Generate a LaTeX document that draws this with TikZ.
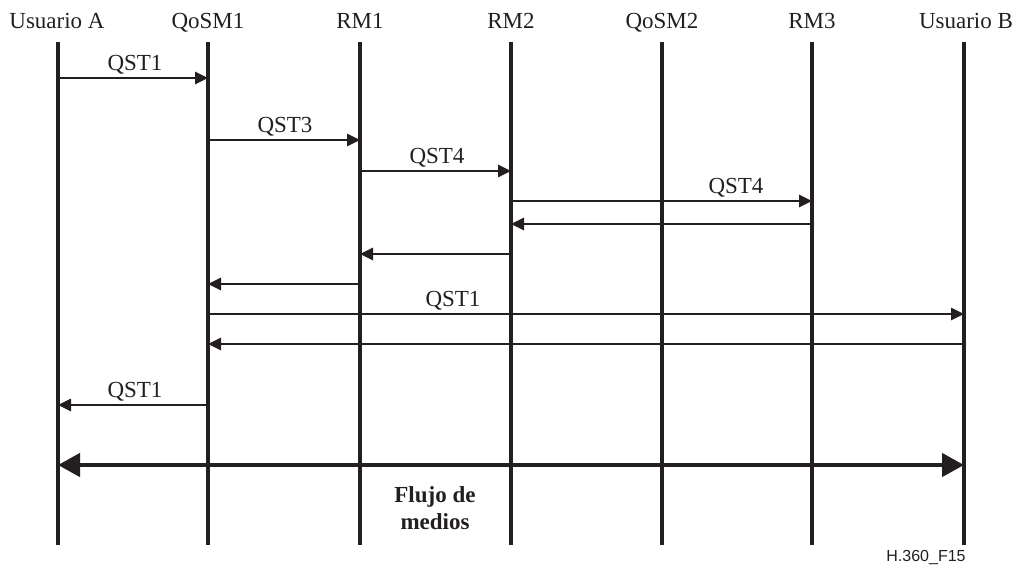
\documentclass[tikz,border=0pt]{standalone}
\usepackage{fontspec}
\setmainfont{Liberation Serif}
\newfontfamily\arialfont{Liberation Sans}
\usetikzlibrary{arrows.meta}
\definecolor{ink}{HTML}{231F20}
\begin{document}
\begin{tikzpicture}[x=1pt,y=-1pt,
  lifeline/.style={draw=ink,line width=3.2pt},
  head/.style={inner sep=0pt,anchor=base,font=\fontsize{23}{26}\selectfont,text=ink},
  msg/.style={draw=ink,line width=2.8pt,-{Triangle[length=13pt,width=12pt]}},
  flow/.style={draw=ink,line width=4.5pt,{Triangle[length=22pt,width=23pt]}-{Triangle[length=22pt,width=23pt]}},
  lbl/.style={inner sep=0pt,anchor=base,font=\fontsize{23}{26}\selectfont,text=ink}]
\useasboundingbox (0,0) rectangle (1020,570);
% heads
\node[head] (hA) at (57,28) {Usuario A};
\node[head] (hQ1) at (208,28) {QoSM1};
\node[head] (hR1) at (360,28) {RM1};
\node[head] (hR2) at (511,28) {RM2};
\node[head] (hQ2) at (662,28) {QoSM2};
\node[head] (hR3) at (812,28) {RM3};
\node[head] (hB) at (966,28) {Usuario B};
% lifeline ends
\foreach \n/\x in {A/58,Q1/208,R1/360,R2/511,Q2/662,R3/812,B/964}{
  \coordinate (t\n) at (\x,42);
  \coordinate (b\n) at (\x,545);
  \draw[lifeline] (t\n) -- (b\n);
}
% messages
\draw[msg] (tA |- 0,78) -- (tQ1 |- 0,78);
\node[lbl] (l1) at (135,70) {QST1};
\draw[msg] (tQ1 |- 0,140) -- (tR1 |- 0,140);
\node[lbl] (l2) at (285,132) {QST3};
\draw[msg] (tR1 |- 0,171) -- (tR2 |- 0,171);
\node[lbl] (l3) at (437,163) {QST4};
\draw[msg] (tR2 |- 0,201) -- (tR3 |- 0,201);
\node[lbl] (l4) at (736,193) {QST4};
\draw[msg] (tR3 |- 0,224) -- (tR2 |- 0,224);
\draw[msg] (tR2 |- 0,254) -- (tR1 |- 0,254);
\draw[msg] (tR1 |- 0,284) -- (tQ1 |- 0,284);
\draw[msg] (tQ1 |- 0,314) -- (tB |- 0,314);
\node[lbl] (l5) at (453,306) {QST1};
\draw[msg] (tB |- 0,344) -- (tQ1 |- 0,344);
\draw[msg] (tQ1 |- 0,405) -- (tA |- 0,405);
\node[lbl] (l6) at (135,397) {QST1};
% media flow
\draw[flow] (tA |- 0,465) -- (tB |- 0,465);
\node[inner sep=0pt,align=center,text=ink,font=\bfseries\fontsize{23}{27}\selectfont] (fm) at (435,508) {Flujo de\\medios};
\node[inner sep=0pt,text=ink,font=\arialfont\fontsize{16}{18}\selectfont] (id) at (926,557) {H.360\_F15};
\end{tikzpicture}
\end{document}
